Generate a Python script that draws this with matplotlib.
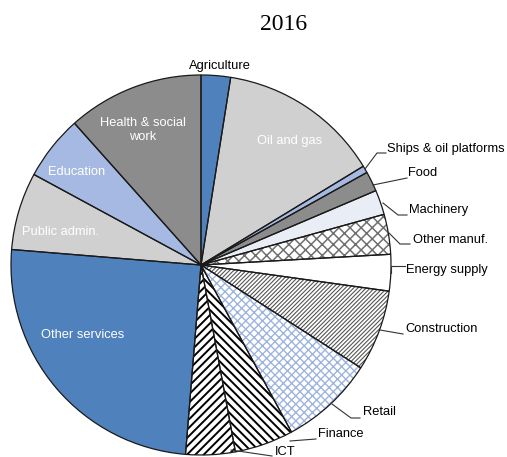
import matplotlib
matplotlib.use('Agg')
import matplotlib.pyplot as plt

# sector shares (% of total), clockwise from the top
sectors = ['Agriculture', 'Oil and gas', 'Ships & oil platforms', 'Food', 'Machinery',
           'Other manuf.', 'Energy supply', 'Construction', 'Retail', 'Finance', 'ICT',
           'Other services', 'Public admin.', 'Education', 'Health & social\nwork']
shares = [2.5, 13.8, 0.6, 1.7, 2.1, 3.4, 3.1, 6.9, 8.0, 5.0, 4.2, 25.0, 6.6, 5.5, 11.6]

BLUE = '#4F81BD'
LGRAY = '#D0D0D0'
DGRAY = '#8C8C8C'
LBLUE = '#A6B9E3'
fills = [BLUE, LGRAY, LBLUE, DGRAY, '#E9EDF6', 'white', 'white', 'white', 'white',
         'white', 'white', BLUE, LGRAY, LBLUE, DGRAY]
# (hatch, hatch colour, hatch linewidth)
hatches = {5: ('xxx', '#707070', 1.1),
           7: ('////////', '#555555', 0.8),
           8: ('xxxx', '#9DB4DE', 1.0),
           9: ('\\\\\\\\', 'black', 1.4),
           10: ('////', 'black', 1.4)}

W, H = 507, 457
CX, CY, R = 201, 265, 190


def P(x, y):
    # pixel position (y down) -> data coords (y up)
    return x, H - y


plt.rcParams['font.family'] = ['Liberation Sans', 'DejaVu Sans']
fig = plt.figure(figsize=(W / 100, H / 100), dpi=100)
ax = fig.add_axes([0, 0, 1, 1])

# filled / hatched wedges
wedges, _ = ax.pie(shares, colors=fills, startangle=90, counterclock=False,
                   center=P(CX, CY), radius=R, frame=True,
                   wedgeprops=dict(linewidth=0))
for i, w in enumerate(wedges):
    if i in hatches:
        h, hc, lw = hatches[i]
        w.set_edgecolor(hc)
        w.set_linewidth(0)
        w.set_hatch(h)
        if hasattr(w, 'set_hatch_linewidth'):
            w.set_hatch_linewidth(lw)
        else:
            w._hatch_linewidth = lw

# outlines on top
ax.pie(shares, colors=['none'] * len(shares), startangle=90, counterclock=False,
       center=P(CX, CY), radius=R, frame=True,
       wedgeprops=dict(linewidth=0.9, edgecolor='#1a1a1a', fill=False))
ax.set_xlim(0, W)
ax.set_ylim(0, H)
ax.set_aspect('equal')
ax.axis('off')

# labels inside slices (white)
inside = {1: (290, 141), 14: (143, 130), 13: (77, 172), 12: (61, 232), 11: (83, 335)}
for i, (x, y) in inside.items():
    ax.text(*P(x, y), sectors[i], color='white', fontsize=9.3, ha='center', va='center',
            linespacing=1.3)

# outside labels with leader lines
ax.text(*P(220, 66), sectors[0], fontsize=9.3, ha='center', va='center')
outside = {
    2: ((387, 149), [(365, 169), (377, 153), (386, 153)]),
    3: ((408, 173), [(373, 185), (407, 178)]),
    4: ((409, 210), [(383, 203), (398, 215), (407, 215)]),
    5: ((413, 240), [(389, 233), (400, 244), (410, 244)]),
    6: ((406, 270), [(391, 273), (391, 266), (405, 266)]),
    7: ((405, 329), [(380, 330), (403, 334)]),
    8: ((363, 412), [(332, 404), (351, 418), (360, 418)]),
    9: ((318, 434), [(290, 441), (316, 439)]),
    10: ((275, 452), [(231, 450), (272, 456)]),
}
for i, ((tx, ty), pts) in outside.items():
    xs = [p[0] for p in pts]
    ys = [H - p[1] for p in pts]
    ax.plot(xs, ys, color='#333333', linewidth=0.8)
    ax.text(*P(tx, ty), sectors[i], fontsize=9.3, ha='left', va='center')

fig.text(284 / W, 1 - 25 / H, '2016', fontsize=17, ha='center', va='center',
         family='Liberation Serif')

fig.savefig('out.png', dpi=100)
